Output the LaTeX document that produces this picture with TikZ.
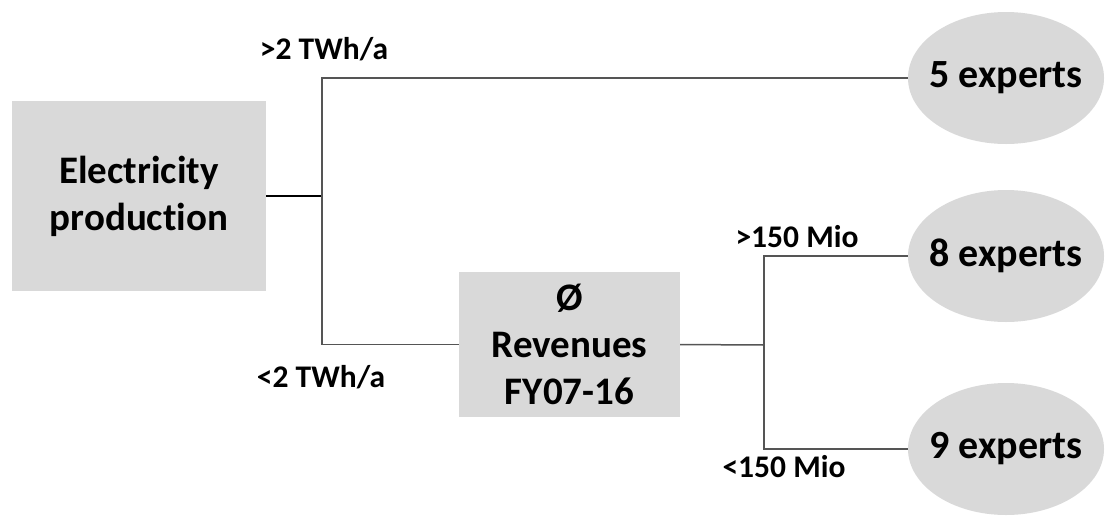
\documentclass[tikz,border=0pt]{standalone}
\usepackage{fontspec}
\setmainfont{Carlito}[Ligatures=NoCommon]
\usetikzlibrary{shapes.geometric}
\definecolor{boxgray}{HTML}{D9D9D9}
\definecolor{linegray}{HTML}{555555}
\tikzset{
  rectbox/.style={rectangle, fill=boxgray, inner sep=0pt, align=center,
    font=\fontsize{39}{47}\selectfont\bfseries},
  ellbox/.style={ellipse, fill=boxgray, inner xsep=-12pt, inner ysep=0pt, minimum width=196pt, minimum height=132pt,
    font=\fontsize{40}{46}\selectfont\bfseries},
  lbl/.style={inner sep=0pt, font=\fontsize{31.5}{34}\selectfont\bfseries},
  conn/.style={draw=linegray, line width=1.5pt}
}
\begin{document}
\begin{tikzpicture}[x=1pt,y=-1pt]
\useasboundingbox (0,0) rectangle (1105,517);
\node[rectbox, minimum width=254pt, minimum height=190pt] (elec) at (139,196) {Electricity\\production};
\node[rectbox, minimum width=221pt, minimum height=145pt] (rev) at (569.5,344.5) {Ø\\Revenues\\FY07-16};
\node[ellbox] (e5) at (1006,78) {5 experts};
\node[ellbox] (e8) at (1006,256) {8 experts};
\node[ellbox] (e9) at (1006,449) {9 experts};
\coordinate (j1) at (322,196);
\coordinate (j2) at (764,345);
\draw[conn, draw=black] (elec.east) -- (j1);
\draw[conn] (e5.west) -| (j1);
\draw[conn] (rev.west) -| (j1);
\draw[conn] (rev.east) -- (j2);
\draw[conn] (e8.west) -| (j2);
\draw[conn] (e9.west) -| (j2);
\node[lbl] (l1) at (324,49) {>2 TWh/a};
\node[lbl] (l2) at (321,377) {<2 TWh/a};
\node[lbl] (l3) at (797,237) {>150 Mio};
\node[lbl] (l4) at (784,467) {<150 Mio};
\end{tikzpicture}
\end{document}
